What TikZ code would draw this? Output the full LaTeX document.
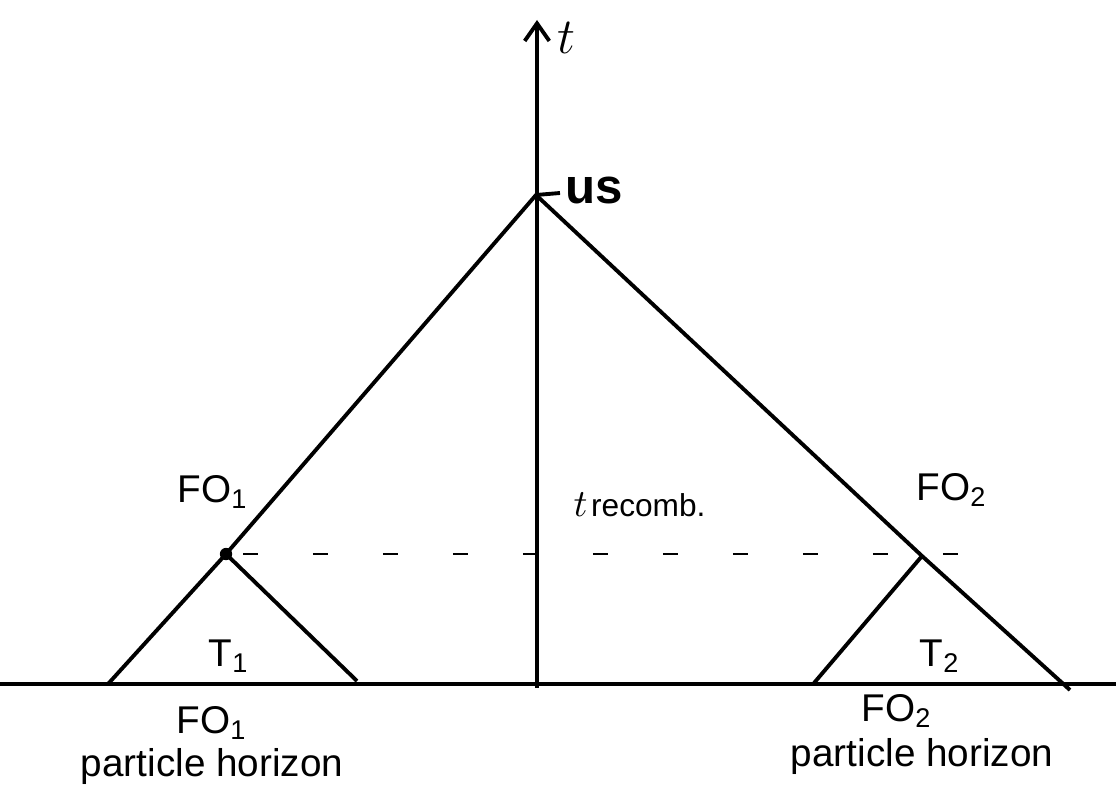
\documentclass[tikz,border=0pt]{standalone}
\usepackage{fontspec}
\setmainfont{Liberation Sans}
\usetikzlibrary{arrows.meta}
\begin{document}
\begin{tikzpicture}[x=0.01cm,y=-0.01cm,
  ln/.style={line width=1.1pt, black},
  lbl/.style={font=\fontsize{11}{13}\selectfont, inner sep=0pt},
  dot/.style={circle, fill=black, inner sep=0pt, minimum size=3.5pt}]
\useasboundingbox (0,0) rectangle (1116,791);
% axes
\coordinate (xl) at (0,684);
\coordinate (xr) at (1116,684);
\coordinate (ybot) at (537,688);
\coordinate (ytop) at (537,20);
\draw[ln] (xl) -- (xr);
\draw[ln,-{Straight Barb[length=5pt,width=7pt]}] (ybot) -- (ytop);
\node[lbl, font=\fontsize{15}{17}\selectfont] (t) at (566,38) {$t$};
% us
\coordinate (us) at (536,195);
\coordinate (ustick) at (560,193);
\draw[ln] (us) -- (ustick);
\node[lbl, font=\fontsize{14}{16}\selectfont\bfseries] (uslbl) at (594,190) {us};
% light cone
\coordinate (lb) at (108,684);
\coordinate (rb) at (1070,690);
\node[dot] (fo1) at (226,554) {};
\coordinate (fo2) at (922,556);
\draw[ln] (lb) -- (fo1.center) -- (us) -- (fo2) -- (rb);
% small cones
\coordinate (t1r) at (357,681);
\coordinate (t2l) at (814,683);
\draw[ln] (fo1.center) -- (t1r);
\draw[ln] (fo2) -- (t2l);
% dashed recombination line
\coordinate (dl) at (243,554);
\coordinate (dr) at (962,554);
\draw[line width=0.7pt, dash pattern=on 4.3pt off 15.6pt] (dl) -- (dr);
% labels
\node[lbl] (fo1lbl) at (213,492) {FO\textsubscript{1}};
\node[lbl] (fo2lbl) at (952,490) {FO\textsubscript{2}};
\node[lbl] (t1lbl) at (229,656) {T\textsubscript{1}};
\node[lbl] (t2lbl) at (940,656) {T\textsubscript{2}};
\node[lbl, anchor=west] (trec) at (573,505) {$t$\kern1pt{\fontsize{9}{11}\selectfont recomb.}};
\node[lbl] (fo1b) at (212,723) {FO\textsubscript{1}};
\node[lbl] (ph1) at (212,766) {particle horizon};
\node[lbl] (fo2b) at (897,711) {FO\textsubscript{2}};
\node[lbl] (ph2) at (922,756) {particle horizon};
\end{tikzpicture}
\end{document}
